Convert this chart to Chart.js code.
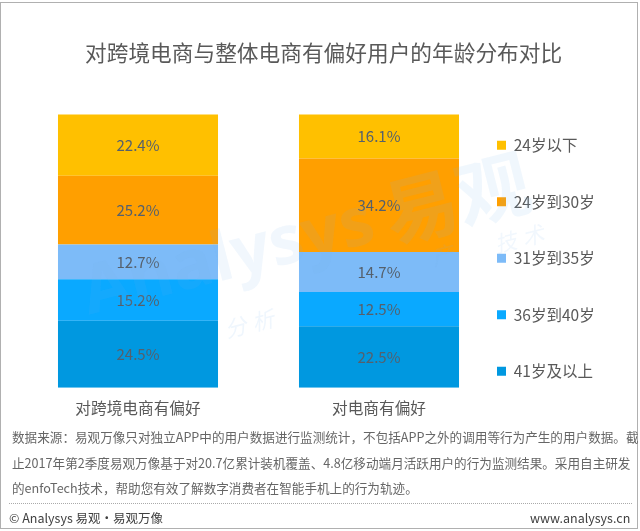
<!DOCTYPE html>
<html><head><meta charset="utf-8">
<script src="https://cdn.jsdelivr.net/npm/chart.js@4"></script>
<style>
html,body{margin:0;padding:0;background:#fff;width:640px;height:531px;overflow:hidden}
#wrap{position:relative;width:640px;height:531px}
canvas{position:absolute;left:0;top:0}
#frame{position:absolute;left:0;top:2px;width:636px;height:525px;border:1px solid #b0b0b0;pointer-events:none}
.t{position:absolute;white-space:nowrap;font-family:"Noto Sans CJK SC",sans-serif;color:#595959}
#title{left:85px;top:37px;font-size:21.7px;line-height:30px}
.n{left:12px;font-size:12.6px;line-height:20px;color:#666}
#dots{position:absolute;left:9px;width:623px;top:503px;border-top:1px dotted #aaa}
.f{font-size:12.5px;line-height:20px;color:#404040;top:508px}
</style></head><body>
<div id="wrap">
<canvas id="c" width="640" height="531"></canvas>
<div id="frame"></div>
<div class="t" id="title">对跨境电商与整体电商有偏好用户的年龄分布对比</div>
<div class="t n" style="top:427px">数据来源：易观万像只对独立APP中的用户数据进行监测统计，不包括APP之外的调用等行为产生的用户数据。截</div>
<div class="t n" style="top:453px">止2017年第2季度易观万像基于对20.7亿累计装机覆盖、4.8亿移动端月活跃用户的行为监测结果。采用自主研发</div>
<div class="t n" style="top:478px">的enfoTech技术，帮助您有效了解数字消费者在智能手机上的行为轨迹。</div>
<div id="dots"></div>
<div class="t f" style="left:9px">© Analysys 易观·易观万像</div>
<div class="t f" style="left:530px">www.analysys.cn</div>
</div>
<script>
const categories = ["对跨境电商有偏好", "对电商有偏好"];
const age41plus = [24.5, 22.5];
const age36to40 = [15.2, 12.5];
const age31to35 = [12.7, 14.7];
const age24to30 = [25.2, 34.2];
const ageUnder24 = [22.4, 16.1];
const seriesNames = ["41岁及以上", "36岁到40岁", "31岁到35岁", "24岁到30岁", "24岁以下"];
const seriesColors = ["#0098E0", "#0AA9FF", "#7DBBF8", "#FF9F00", "#FFC000"];
const seriesValues = [age41plus, age36to40, age31to35, age24to30, ageUnder24];
const FONT = '"Noto Sans CJK SC", sans-serif';

function mark(ctx, text, x, y, font, alpha, spacing) {
  ctx.save();
  ctx.fillStyle = 'rgba(120,180,235,' + alpha + ')';
  ctx.textBaseline = 'middle';
  ctx.translate(x, y);
  ctx.rotate(-0.25);
  ctx.font = font;
  if (spacing) ctx.letterSpacing = spacing;
  ctx.fillText(text, 0, 0);
  ctx.restore();
}

const labelsAndMark = {
  id: 'labelsAndMark',
  afterLayout(chart) {
    const l = chart.legend;
    l.left -= 43.5; l.right -= 43.5;
    l.top += 3.5; l.bottom += 3.5;
  },
  afterDatasetsDraw(chart) {
    const ctx = chart.ctx;
    ctx.save();
    ctx.font = '15px ' + FONT;
    ctx.fillStyle = '#55606c';
    ctx.textAlign = 'center';
    ctx.textBaseline = 'middle';
    chart.data.datasets.forEach((ds, i) => {
      chart.getDatasetMeta(i).data.forEach((bar, j) => {
        const p = bar.getCenterPoint();
        ctx.fillText(ds.data[j].toFixed(1) + '%', p.x, p.y);
      });
    });
    ctx.restore();
    mark(ctx, 'Analysys', 84, 296, 'bold 68px "Open Sans", sans-serif', 0.10);
    mark(ctx, '易观', 385, 216, 'bold 74px ' + FONT, 0.11);
    mark(ctx, '分析', 225, 330, 'italic 22px ' + FONT, 0.12, '6px');
    mark(ctx, '产', 432, 258, 'italic 22px ' + FONT, 0.10);
    mark(ctx, '技术', 495, 245, 'italic 22px ' + FONT, 0.10, '6px');
  }
};

new Chart(document.getElementById('c'), {
  type: 'bar',
  data: {
    labels: categories,
    datasets: seriesNames.map((n, i) => ({
      label: n, data: seriesValues[i], backgroundColor: seriesColors[i],
      borderWidth: 0, barPercentage: 1, categoryPercentage: 0.664
    }))
  },
  options: {
    responsive: false, animation: false, devicePixelRatio: 1,
    layout: { padding: { left: 17.5, right: 0, top: 90, bottom: 111.5 } },
    plugins: {
      title: { display: false },
      tooltip: { enabled: false },
      legend: {
        position: 'right', reverse: true, maxWidth: 140.5,
        labels: { boxWidth: 9, boxHeight: 9, padding: 41, color: '#595959',
                  font: { family: FONT, size: 15.5 } }
      }
    },
    scales: {
      x: { stacked: true, grid: { display: false }, border: { display: false },
           ticks: { color: '#595959', padding: 2.5, font: { family: FONT, size: 15.7 }, maxRotation: 0 } },
      y: { stacked: true, display: false, min: 0, max: 108.97 }
    }
  },
  plugins: [labelsAndMark]
});
</script>
</body></html>
